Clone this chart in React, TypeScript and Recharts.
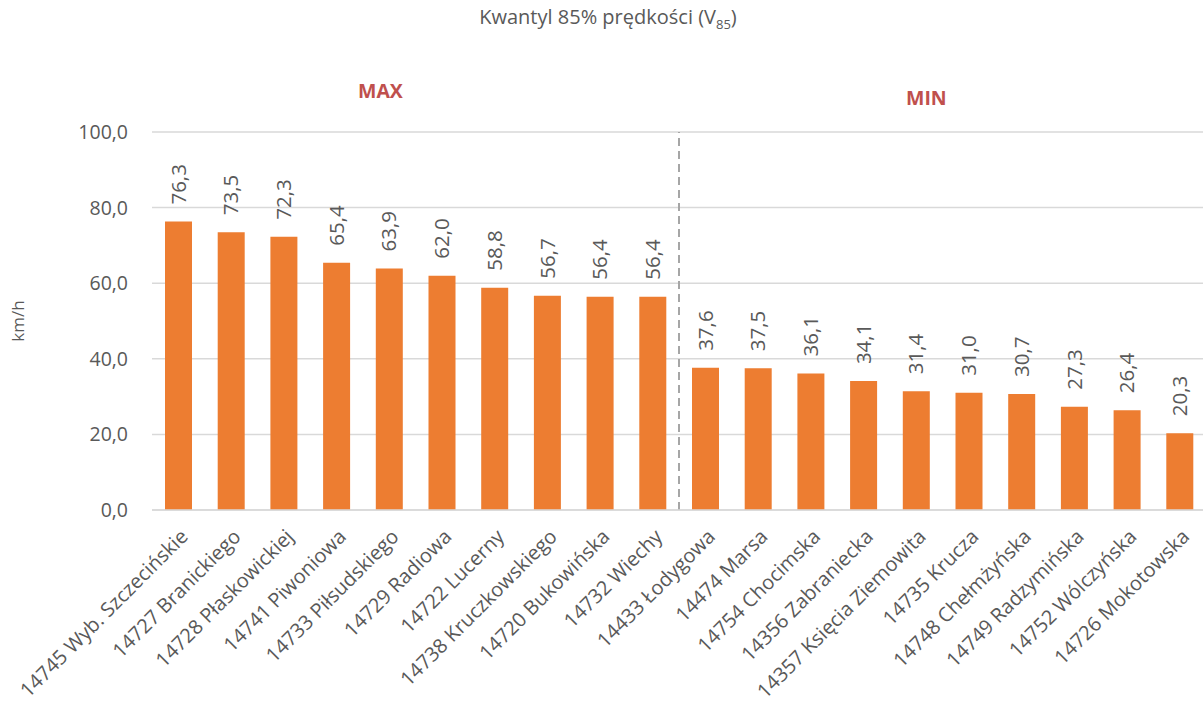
import React from 'react';
import { BarChart, Bar, XAxis, YAxis, CartesianGrid, ReferenceLine, LabelList } from 'recharts';

const categories = [
  '14745 Wyb. Szczecińskie', '14727 Branickiego', '14728 Płaskowickiej', '14741 Piwoniowa',
  '14733 Piłsudskiego', '14729 Radiowa', '14722 Lucerny', '14738 Kruczkowskiego',
  '14720 Bukowińska', '14732 Wiechy', '14433 Łodygowa', '14474 Marsa', '14754 Chocimska',
  '14356 Zabraniecka', '14357 Księcia Ziemowita', '14735 Krucza', '14748 Chełmżyńska',
  '14749 Radzymińska', '14752 Wólczyńska', '14726 Mokotowska',
];
const speeds = [76.3, 73.5, 72.3, 65.4, 63.9, 62.0, 58.8, 56.7, 56.4, 56.4, 37.6, 37.5, 36.1, 34.1, 31.4, 31.0, 30.7, 27.3, 26.4, 20.3];
const yTicks = [0, 20, 40, 60, 80, 100];
const splitIndex = 10;

const data = categories.map((name, i) => ({ name, v: speeds[i] }));
const fmt = (v: number) => v.toFixed(1).replace('.', ',');
const FONT = '"Open Sans", "Noto Sans", sans-serif';
const GRAY = '#595959';

const XTick = (props: any) => {
  const { x, y, payload } = props;
  return (
    <g transform={`translate(${x + 1},${y + 10})`}>
      <text transform="rotate(-45)" textAnchor="end" dy="0.7em" fill={GRAY} fontSize={20} fontFamily={FONT}>
        {payload.value}
      </text>
    </g>
  );
};

const ValueLabel = (props: any) => {
  const { x, y, width, value } = props;
  const cx = x + width / 2;
  const cy = y - 17;
  return (
    <text x={cx} y={cy} transform={`rotate(-90, ${cx}, ${cy})`} textAnchor="start" dy="0.35em" fill={GRAY} fontSize={20.5} fontFamily={FONT}>
      {fmt(value)}
    </text>
  );
};

export default function App() {
  return (
    <div style={{ position: 'absolute', left: 0, top: 0, width: 1203, height: 706, overflow: 'hidden', background: '#fff', fontFamily: FONT }}>
      <div style={{ position: 'absolute', left: 0, width: 1216, top: 3, textAlign: 'center', fontSize: 20, color: GRAY, lineHeight: '28px' }}>
        Kwantyl 85% prędkości (V<sub style={{ fontSize: 13, verticalAlign: -5 }}>85</sub>)
      </div>
      <div style={{ position: 'absolute', left: 358, top: 77, fontSize: 19.5, fontWeight: 700, color: '#C0504D', lineHeight: '28px' }}>MAX</div>
      <div style={{ position: 'absolute', left: 906, top: 84, fontSize: 19.5, fontWeight: 700, color: '#C0504D', lineHeight: '28px' }}>MIN</div>
      <div style={{ position: 'absolute', left: 0, top: 0 }}>
        <BarChart width={1206} height={706} data={data} margin={{ top: 132, right: 0, left: 0, bottom: 0 }}>
          <CartesianGrid vertical={false} stroke="#d9d9d9" strokeWidth={1.5} />
          <XAxis dataKey="name" interval={0} height={196} tick={<XTick />} tickLine={false} axisLine={{ stroke: '#d9d9d9', strokeWidth: 1.5 }} />
          <YAxis
            domain={[0, 100]}
            ticks={yTicks}
            width={152}
            tickFormatter={fmt}
            tickLine={false}
            axisLine={false}
            tickSize={0}
            tickMargin={24}
            tick={{ fill: GRAY, fontSize: 19.5, fontFamily: FONT }}
            label={{ value: 'km/h', angle: -90, position: 'insideLeft', dx: 13, fill: GRAY, fontSize: 17, fontFamily: FONT, style: { textAnchor: 'middle' } }}
          />
          <ReferenceLine x={categories[splitIndex]} position="start" stroke="#a6a6a6" strokeWidth={2} strokeDasharray="8 5" />
          <Bar dataKey="v" fill="#ED7D31" barSize={27} isAnimationActive={false}>
            <LabelList dataKey="v" content={<ValueLabel />} />
          </Bar>
        </BarChart>
      </div>
    </div>
  );
}
